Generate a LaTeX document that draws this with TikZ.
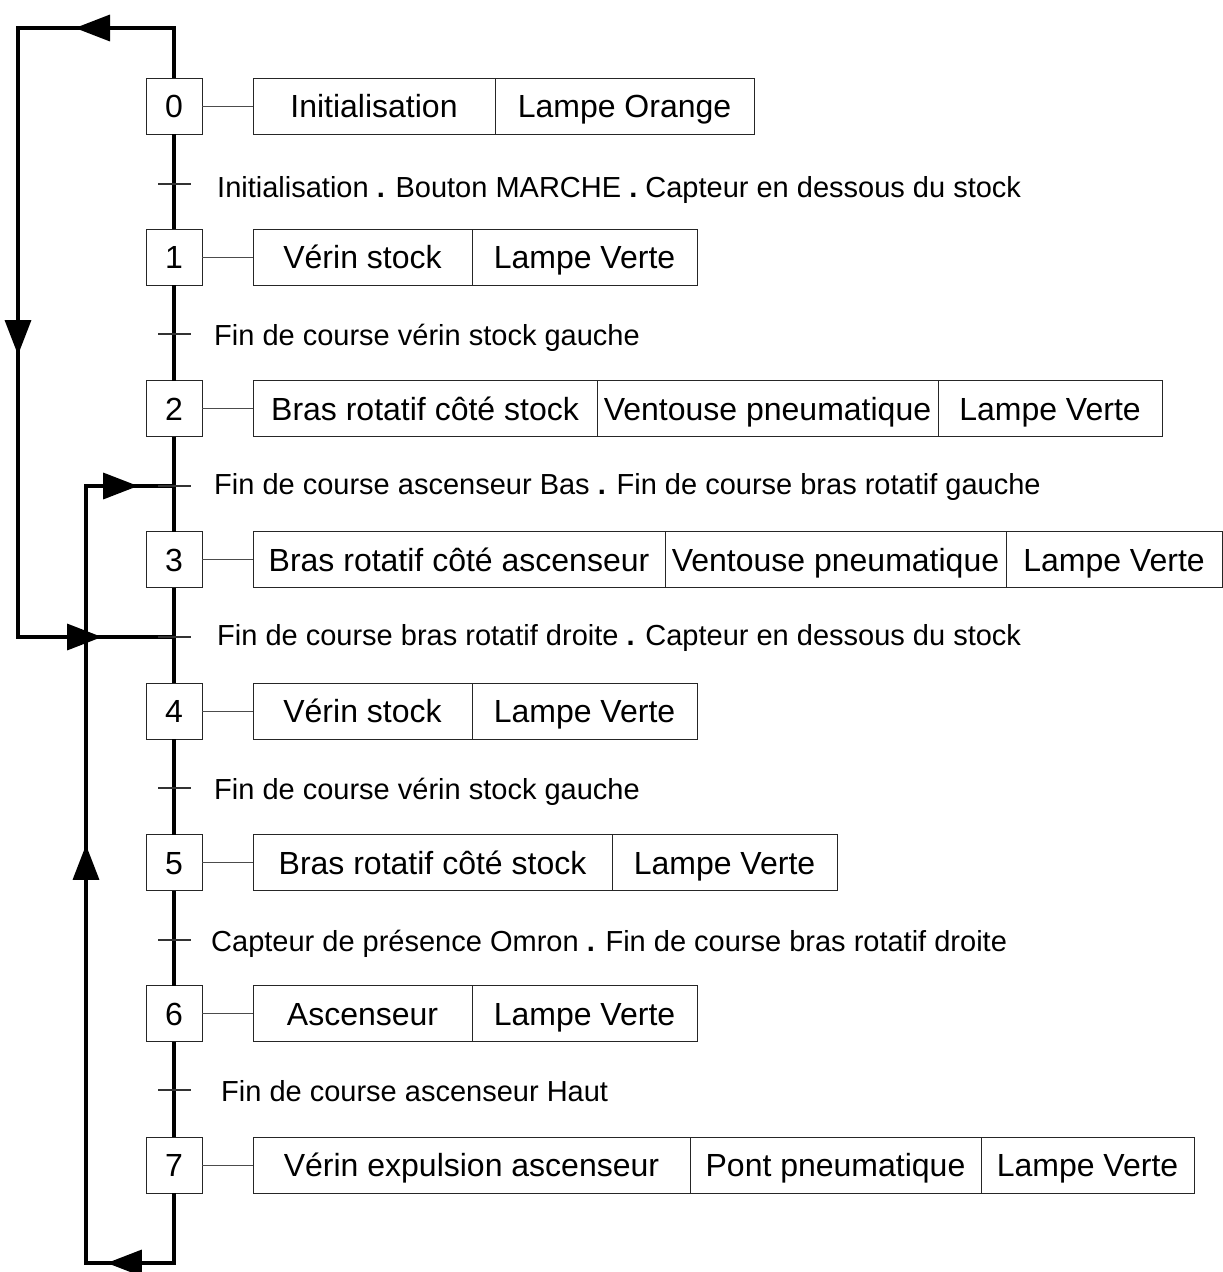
\documentclass[tikz,border=0pt]{standalone}
\usepackage{fontspec}
\setmainfont{Liberation Sans}
\usetikzlibrary{arrows.meta,decorations.markings}
\begin{document}
\begin{tikzpicture}[x=1pt,y=-1pt,
  stepbox/.style={draw=black!85, line width=1pt, minimum width=56pt, minimum height=56pt, inner sep=0pt, outer sep=0pt, text height=23pt, text depth=0pt, font=\fontsize{32}{36}\selectfont},
  actbox/.style={draw=black!85, line width=1pt, minimum width=#1, minimum height=56pt, inner sep=0pt, outer sep=0pt, text height=23pt, text depth=0pt, anchor=west, font=\fontsize{32}{36}\selectfont},
  link/.style={draw=black!70, line width=1pt},
  flow/.style={line width=3.5pt, line join=miter},
  tmark/.style={line width=1.2pt, draw=black!80},
  ttext/.style={anchor=base west, inner sep=0pt, font=\fontsize{29}{34}\selectfont},
  arrA/.style={postaction={decorate}, decoration={markings,
     mark=at position 149pt with {\arrow{Triangle[length=35pt,width=26pt]}},
     mark=at position 533pt with {\arrow{Triangle[length=35pt,width=26pt]}},
     mark=at position 899pt with {\arrow{Triangle[length=35pt,width=26pt]}}}},
  arrB/.style={postaction={decorate}, decoration={markings,
     mark=at position 137pt with {\arrow{Triangle[length=35pt,width=26pt]}},
     mark=at position 576pt with {\arrow{Triangle[length=35pt,width=26pt]}},
     mark=at position 987pt with {\arrow{Triangle[length=35pt,width=26pt]}}}}
]
\useasboundingbox (0,0) rectangle (1223,1272);

% steps
\node[stepbox] (s0) at (174,106) {0};
\node[stepbox] (s1) at (174,257.3) {1};
\node[stepbox] (s2) at (174,408.6) {2};
\node[stepbox] (s3) at (174,559.9) {3};
\node[stepbox] (s4) at (174,711.2) {4};
\node[stepbox] (s5) at (174,862.5) {5};
\node[stepbox] (s6) at (174,1013.8) {6};
\node[stepbox] (s7) at (174,1165.1) {7};

% actions
\node[actbox=242pt] (a0a) at (253,106) {Initialisation};
\node[actbox=259pt] (a0b) at (a0a.east) {Lampe Orange};

\node[actbox=219pt] (a1a) at (253,257.3) {Vérin stock};
\node[actbox=225pt] (a1b) at (a1a.east) {Lampe Verte};

\node[actbox=344pt] (a2a) at (253,408.6) {Bras rotatif côté stock};
\node[actbox=341pt] (a2b) at (a2a.east) {Ventouse pneumatique};
\node[actbox=224pt] (a2c) at (a2b.east) {Lampe Verte};

\node[actbox=412pt] (a3a) at (253,559.9) {Bras rotatif côté ascenseur};
\node[actbox=341pt] (a3b) at (a3a.east) {Ventouse pneumatique};
\node[actbox=216pt] (a3c) at (a3b.east) {Lampe Verte};

\node[actbox=219pt] (a4a) at (253,711.2) {Vérin stock};
\node[actbox=225pt] (a4b) at (a4a.east) {Lampe Verte};

\node[actbox=359pt] (a5a) at (253,862.5) {Bras rotatif côté stock};
\node[actbox=225pt] (a5b) at (a5a.east) {Lampe Verte};

\node[actbox=219pt] (a6a) at (253,1013.8) {Ascenseur};
\node[actbox=225pt] (a6b) at (a6a.east) {Lampe Verte};

\node[actbox=437pt] (a7a) at (253,1165.1) {Vérin expulsion ascenseur};
\node[actbox=291pt] (a7b) at (a7a.east) {Pont pneumatique};
\node[actbox=213pt] (a7c) at (a7b.east) {Lampe Verte};

% links
\foreach \i in {0,...,7}{\draw[link] (s\i.east) -- (a\i a.west);}

% transitions
\coordinate (t0) at (174,184);
\coordinate (t1) at (174,334);
\coordinate (t2) at (174,486);
\coordinate (t3) at (174,637);
\coordinate (t4) at (174,788);
\coordinate (t5) at (174,940);
\coordinate (t6) at (174,1090);

% main flow
\draw[flow] (s0.south) -- (t0) -- (s1.north);
\draw[flow] (s1.south) -- (t1) -- (s2.north);
\draw[flow] (s2.south) -- (t2) -- (s3.north);
\draw[flow] (s3.south) -- (t3) -- (s4.north);
\draw[flow] (s4.south) -- (t4) -- (s5.north);
\draw[flow] (s5.south) -- (t5) -- (s6.north);
\draw[flow] (s6.south) -- (t6) -- (s7.north);

% loops
\coordinate (o1) at (174,28);
\coordinate (o2) at (18,28);
\coordinate (o3) at (18,637);
\coordinate (b1) at (174,1263);
\coordinate (b2) at (86,1263);
\coordinate (b3) at (86,486);
\draw[flow, arrA] (s0.north) -- (o1) -- (o2) -- (o3) -- (t3);
\draw[flow, arrB] (s7.south) -- (b1) -- (b2) -- (b3) -- (t2);

% transition marks
\foreach \i in {0,...,6}{\draw[tmark] ([xshift=-16pt]t\i) -- ([xshift=17pt]t\i);}

% transition texts
\node[ttext] (c0) at (217,197.5) {Initialisation \textbf{.} Bouton MARCHE \textbf{.} Capteur en dessous du stock};
\node[ttext] (c1) at (214,345) {Fin de course vérin stock gauche};
\node[ttext] (c2) at (214,494.5) {Fin de course ascenseur Bas \textbf{.} Fin de course bras rotatif gauche};
\node[ttext] (c3) at (217,645) {Fin de course bras rotatif droite \textbf{.} Capteur en dessous du stock};
\node[ttext] (c4) at (214,799) {Fin de course vérin stock gauche};
\node[ttext] (c5) at (211,951) {Capteur de présence Omron \textbf{.} Fin de course bras rotatif droite};
\node[ttext] (c6) at (221,1101.5) {Fin de course ascenseur Haut};
\end{tikzpicture}
\end{document}
